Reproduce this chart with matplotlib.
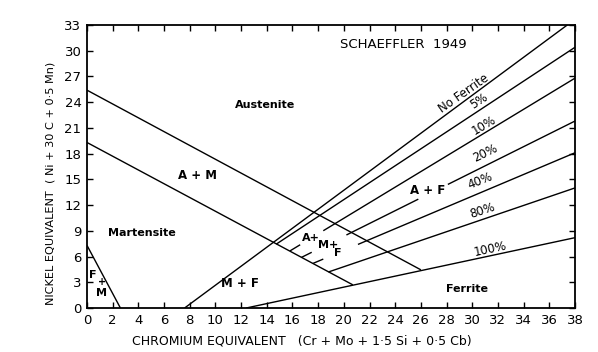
import numpy as np
import matplotlib
matplotlib.use('Agg')
import matplotlib.pyplot as plt

# boundary lines: (x0, y0), (x1, y1)
upper_am = [(0.0, 25.4), (26.0, 4.45)]   # Austenite / A+M
lower_am = [(0.0, 19.3), (20.7, 2.7)]    # A+M / Martensite
fm_line = [(0.0, 7.3), (2.6, 0.0)]       # F+M corner
no_ferrite = [(7.6, 0.0), (37.4, 33.0)]
full_ferrite = [(12.4, 0.0), (38.0, 8.2)]  # 100 %

# ferrite % lines: start on lower A+M line, end on right edge
pct_names = ['5%', '10%', '20%', '40%', '80%']
pct_x0 = [14.74, 15.8, 16.7, 17.6, 18.8]
pct_y0 = [7.45, 6.65, 5.9, 5.2, 4.2]
pct_y1 = [30.4, 26.8, 21.8, 18.1, 14.0]
# gaps left for the lettering (x ranges)
pct_gaps = [[], [(16.6, 18.4)], [(17.5, 20.2), (25.8, 28.1)], [(18.4, 21.1)], []]

# labels on the lines: x, y, angle
line_lab_x = [29.3, 30.5, 30.9, 31.0, 30.6, 30.8, 31.4]
line_lab_y = [25.0, 24.1, 21.3, 18.0, 14.8, 11.4, 6.85]
line_lab_rot = [35, 33, 31, 26, 22, 18, 12]
line_lab_txt = ['No Ferrite', '5%', '10%', '20%', '40%', '80%', '100%']

xticks = list(range(0, 39, 2))
yticks = list(range(0, 34, 3))

fig = plt.figure(figsize=(5.98, 3.52), dpi=100)
ax = fig.add_axes([0.1455, 0.125, 0.816, 0.804])

lw = 1.0
def seg(p, **kw):
    ax.plot([p[0][0], p[1][0]], [p[0][1], p[1][1]], color='black', lw=lw, solid_capstyle='butt', **kw)

for p in [upper_am, lower_am, fm_line, no_ferrite, full_ferrite]:
    seg(p)

for x0, y0, y1, gaps in zip(pct_x0, pct_y0, pct_y1, pct_gaps):
    cuts = [x0]
    for g in gaps:
        cuts += [g[0], g[1]]
    cuts.append(38.0)
    for i in range(0, len(cuts), 2):
        xa, xb = cuts[i], cuts[i + 1]
        ya = np.interp(xa, [x0, 38.0], [y0, y1])
        yb = np.interp(xb, [x0, 38.0], [y0, y1])
        seg([(xa, ya), (xb, yb)])

for x, y, r, t in zip(line_lab_x, line_lab_y, line_lab_rot, line_lab_txt):
    ax.text(x, y, t, rotation=r, ha='center', va='center', fontsize=8.5)

# region names
ax.text(13.9, 23.7, 'Austenite', ha='center', va='center', fontsize=8, fontweight='bold')
ax.text(8.6, 15.5, 'A + M', ha='center', va='center', fontsize=8.5, fontweight='bold')
ax.text(4.3, 8.8, 'Martensite', ha='center', va='center', fontsize=8, fontweight='bold')
ax.text(11.9, 2.8, 'M + F', ha='center', va='center', fontsize=8.5, fontweight='bold')
ax.text(26.5, 13.7, 'A + F', ha='center', va='center', fontsize=8.5, fontweight='bold')
ax.text(29.6, 2.2, 'Ferrite', ha='center', va='center', fontsize=8, fontweight='bold')
ax.text(17.4, 8.2, 'A+', ha='center', va='center', fontsize=8, fontweight='bold')
ax.text(18.75, 7.4, 'M+', ha='center', va='center', fontsize=8, fontweight='bold')
ax.text(19.5, 6.4, 'F', ha='center', va='center', fontsize=8, fontweight='bold')
ax.text(0.45, 3.8, 'F', ha='center', va='center', fontsize=8, fontweight='bold')
ax.text(1.15, 3.0, '+', ha='center', va='center', fontsize=7, fontweight='bold')
ax.text(1.1, 1.7, 'M', ha='center', va='center', fontsize=8, fontweight='bold')
ax.text(24.6, 30.7, 'SCHAEFFLER  1949', ha='center', va='center', fontsize=9.5)

ax.set_xlim(0, 38)
ax.set_ylim(0, 33)
ax.set_xticks(xticks)
ax.set_yticks(yticks)
ax.tick_params(direction='in', length=4, width=1, top=True, right=True, labelsize=9.5, pad=4)
for s in ax.spines.values():
    s.set_linewidth(1.3)

ax.set_xlabel('CHROMIUM EQUIVALENT   (Cr + Mo + 1·5 Si + 0·5 Cb)', fontsize=9)
ax.xaxis.set_label_coords(0.44, -0.092)
ax.set_ylabel('NICKEL EQUIVALENT  ( Ni + 30 C + 0·5 Mn)', fontsize=8.1)
ax.yaxis.set_label_coords(-0.065, 0.44)

fig.savefig('out.png', dpi=100)
